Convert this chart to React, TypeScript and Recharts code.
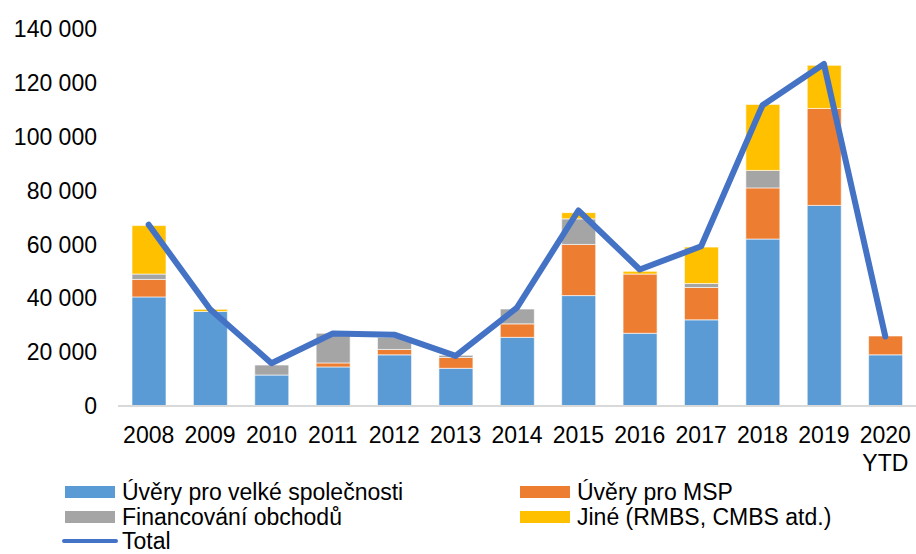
import React from "react";
import { ComposedChart, Bar, Line, XAxis, YAxis, Legend } from "recharts";

const years = ["2008", "2009", "2010", "2011", "2012", "2013", "2014", "2015", "2016", "2017", "2018", "2019", "2020\nYTD"];
const velkeSpolecnosti = [40500, 35100, 11500, 14500, 19000, 14000, 25500, 41000, 27000, 32000, 62000, 74500, 19000];
const uveryMsp = [6500, 0, 0, 1500, 2000, 4000, 5000, 19000, 22000, 12000, 19000, 36000, 7000];
const financovaniObchodu = [2000, 0, 3700, 11000, 4500, 800, 5500, 9500, 0, 1500, 6500, 0, 0];
const jine = [18000, 800, 0, 0, 0, 0, 0, 2300, 1000, 13500, 24500, 16000, 0];
const total = [67300, 35900, 15900, 26900, 26500, 18600, 36500, 72600, 50700, 59300, 111700, 127000, 25800];
const yTicks = [0, 20000, 40000, 60000, 80000, 100000, 120000, 140000];

const FONT = '"Liberation Sans", Arial, sans-serif';

const data = years.map((year, i) => ({
  year,
  velke: velkeSpolecnosti[i],
  msp: uveryMsp[i],
  obchod: financovaniObchodu[i],
  jine: jine[i],
  total: total[i],
}));

const formatThousands = (v: number) => String(v).replace(/\B(?=(\d{3})+(?!\d))/g, " ");

const YearTick = ({ x, y, payload }: any) => {
  const lines = String(payload.value).split("\n");
  return (
    <text x={x} y={y} textAnchor="middle" fill="#000" fontSize={23} fontFamily={FONT}>
      {lines.map((line, i) => (
        <tspan key={i} x={x} dy={i === 0 ? 29 : 28}>
          {line}
        </tspan>
      ))}
    </text>
  );
};

const legendItems = [
  { label: "Úvěry pro velké společnosti", color: "#5B9BD5", left: 65, top: 2.5, line: false },
  { label: "Úvěry pro MSP", color: "#ED7D31", left: 520, top: 2.5, line: false },
  { label: "Financování obchodů", color: "#A5A5A5", left: 65, top: 27.5, line: false },
  { label: "Jiné (RMBS, CMBS atd.)", color: "#FFC000", left: 520, top: 27.5, line: false },
  { label: "Total", color: "#4472C4", left: 65, top: 51.5, line: true },
];

const ChartLegend = () => (
  <div style={{ position: "relative", height: 76, width: 916, fontFamily: FONT, fontSize: 23, color: "#000" }}>
    {legendItems.map((item) => (
      <div key={item.label} style={{ position: "absolute", left: item.left, top: item.top, height: 23, lineHeight: "23px", whiteSpace: "nowrap" }}>
        {item.line ? (
          <span style={{ position: "absolute", left: -3, top: 9.5, width: 56, height: 4, borderRadius: 2, background: item.color }} />
        ) : (
          <span style={{ position: "absolute", left: 0, top: 5.5, width: 50, height: 12, background: item.color }} />
        )}
        <span style={{ position: "absolute", left: 57, top: 0 }}>{item.label}</span>
      </div>
    ))}
  </div>
);

export default function App() {
  return (
    <div style={{ position: "absolute", left: 0, top: 0, width: 916, height: 554, background: "#fff" }}>
      <ComposedChart width={916} height={554} data={data} margin={{ top: 29, right: 0, bottom: 0, left: 0 }}>
        <XAxis
          dataKey="year"
          interval={0}
          height={72}
          tickLine={false}
          axisLine={{ stroke: "#D9D9D9", strokeWidth: 2 }}
          tick={<YearTick />}
        />
        <YAxis
          width={118}
          domain={[0, 140000]}
          ticks={yTicks}
          tickFormatter={formatThousands}
          axisLine={false}
          tickLine={false}
          tickMargin={15}
          tick={{ fill: "#000", fontSize: 23, fontFamily: FONT }}
        />
        <Bar dataKey="velke" stackId="a" fill="#5B9BD5" stroke="#fff" strokeWidth={0.6} barSize={34} isAnimationActive={false} />
        <Bar dataKey="msp" stackId="a" fill="#ED7D31" stroke="#fff" strokeWidth={0.6} barSize={34} isAnimationActive={false} />
        <Bar dataKey="obchod" stackId="a" fill="#A5A5A5" stroke="#fff" strokeWidth={0.6} barSize={34} isAnimationActive={false} />
        <Bar dataKey="jine" stackId="a" fill="#FFC000" stroke="#fff" strokeWidth={0.6} barSize={34} isAnimationActive={false} />
        <Line
          dataKey="total"
          type="linear"
          stroke="#4472C4"
          strokeWidth={6}
          strokeLinecap="round"
          strokeLinejoin="round"
          dot={false}
          activeDot={false}
          isAnimationActive={false}
        />
        <Legend verticalAlign="bottom" height={76} content={() => <ChartLegend />} />
      </ComposedChart>
    </div>
  );
}
